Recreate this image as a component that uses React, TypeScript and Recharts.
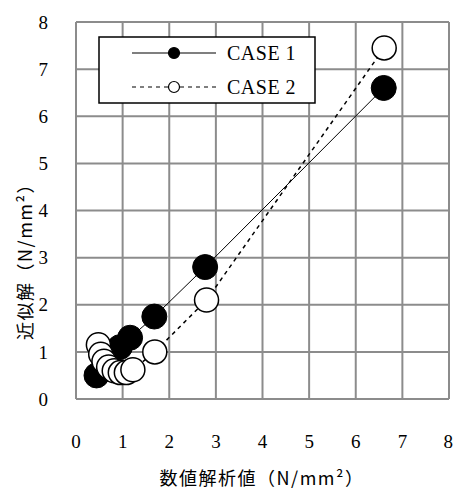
import React from "react";
import { ScatterChart, Scatter, XAxis, YAxis, CartesianGrid, Legend } from "recharts";

const axisTicks = [0, 1, 2, 3, 4, 5, 6, 7, 8];

const case1X = [0.44, 0.94, 1.16, 1.68, 2.77, 6.6];
const case1Y = [0.5, 1.1, 1.3, 1.75, 2.8, 6.6];

const case2X = [0.48, 0.53, 0.6, 0.7, 0.82, 0.95, 1.08, 1.22, 1.69, 2.8, 6.61];
const case2Y = [1.15, 0.95, 0.8, 0.68, 0.6, 0.56, 0.56, 0.62, 1.0, 2.1, 7.45];

const case1 = case1X.map((x, i) => ({ x, y: case1Y[i] }));
const case2 = case2X.map((x, i) => ({ x, y: case2Y[i] }));

const serif = "'Liberation Serif', 'DejaVu Serif', serif";
const jp = "'Noto Sans CJK JP', sans-serif";

const FilledDot = (props: any) => (
  <circle cx={props.cx} cy={props.cy} r={12.5} fill="#000" stroke="#000" strokeWidth={1} />
);
const OpenDot = (props: any) => (
  <circle cx={props.cx} cy={props.cy} r={12} fill="#fff" stroke="#000" strokeWidth={1.5} />
);

function LegendBox() {
  const rows = [
    { name: "CASE 1", dash: undefined, fill: "#000" },
    { name: "CASE 2", dash: "4 4", fill: "#fff" },
  ];
  return (
    <svg width={218} height={68} style={{ display: "block" }}>
      <rect x={1} y={1} width={216} height={66} fill="#fff" stroke="#000" strokeWidth={1.5} />
      {rows.map((r, i) => {
        const cy = 17 + i * 34;
        return (
          <g key={r.name}>
            <line x1={34} x2={118} y1={cy} y2={cy} stroke="#000" strokeWidth={1.2} strokeDasharray={r.dash} />
            <circle cx={76} cy={cy} r={5.5} fill={r.fill} stroke="#000" strokeWidth={1.2} />
            <text x={129} y={cy} dy="0.35em" fontFamily={serif} fontSize={20} letterSpacing={0.5} fill="#000">
              {r.name}
            </text>
          </g>
        );
      })}
    </svg>
  );
}

export default function App() {
  return (
    <div style={{ position: "absolute", left: 0, top: 0, background: "#fff" }}>
      <ScatterChart width={453} height={490} margin={{ top: 22, right: 4, bottom: 0, left: 0 }}>
        <CartesianGrid stroke="#8c8c8c" strokeWidth={2} horizontalValues={axisTicks} verticalValues={axisTicks} />
        <XAxis
          type="number"
          dataKey="x"
          domain={[0, 8]}
          ticks={axisTicks}
          height={91}
          axisLine={false}
          tickLine={false}
          tickSize={0}
          tickMargin={36}
          tick={{ fill: "#000", fontFamily: serif, fontSize: 19 }}
          label={{
            content: () => (
              <text x={262} y={477} textAnchor="middle" dominantBaseline="central" fontFamily={jp} fontSize={18} letterSpacing={1.5} fill="#000">
                数値解析値（N/mm²）
              </text>
            ),
          }}
        />
        <YAxis
          type="number"
          dataKey="y"
          domain={[0, 8]}
          ticks={axisTicks}
          width={76}
          axisLine={false}
          tickLine={false}
          tickSize={0}
          tickMargin={28}
          tick={{ fill: "#000", fontFamily: serif, fontSize: 19 }}
          label={{
            content: () => (
              <text x={24} y={257} transform="rotate(-90 24 257)" textAnchor="middle" dominantBaseline="central" fontFamily={jp} fontSize={18} letterSpacing={1.5} fill="#000">
                近似解（N/mm²）
              </text>
            ),
          }}
        />
        <Legend
          layout="horizontal"
          verticalAlign="middle"
          align="center"
          wrapperStyle={{ position: "absolute", left: 98, top: 36, width: 218, height: 68 }}
          content={() => <LegendBox />}
        />
        <Scatter
          name="CASE 1"
          data={case1}
          line={{ stroke: "#000", strokeWidth: 1 }}
          lineType="joint"
          shape={FilledDot}
          isAnimationActive={false}
        />
        <Scatter
          name="CASE 2"
          data={case2}
          line={{ stroke: "#000", strokeWidth: 1.5, strokeDasharray: "4 4" }}
          lineType="joint"
          shape={OpenDot}
          isAnimationActive={false}
        />
      </ScatterChart>
    </div>
  );
}
